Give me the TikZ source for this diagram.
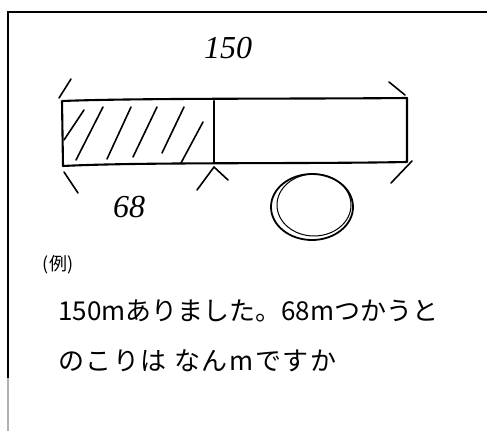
\documentclass[tikz,border=0pt]{standalone}
\usepackage{fontspec}
\newfontfamily\jpfont{Noto Sans CJK JP}
\setmainfont{Liberation Serif}
\begin{document}
\begin{tikzpicture}[x=1pt,y=-1pt,
  pen/.style={line width=2.1pt,line cap=round,line join=round},
  thin pen/.style={line width=1.6pt,line cap=round},
  hand/.style={font=\fontsize{32}{34}\selectfont\itshape,inner sep=0pt},
  jp/.style={font=\jpfont\fontsize{26}{28}\selectfont,inner sep=0pt,anchor=west}]
\useasboundingbox (0,0) rectangle (487,431);
% frame
\draw[line width=1.2pt] (487,12) -- (8,12) -- (8,378);
\draw[line width=1.2pt,gray!60] (8,378) -- (8,431);
% bar
\draw[pen] (62,101) .. controls (140,98) and (300,99) .. (407,98) -- (407,162)
  .. controls (300,164) and (140,162) .. (63,166) -- cycle;
\draw[pen] (214,101) -- (214,163);
% hatching
\foreach \a/\b in {{64,140}/{84,110},{76,160}/{103,107},{107,159}/{131,107},{133,157}/{157,107},{162,153}/{184,107},{181,163}/{203,122}}
  \draw[thin pen] (\a) -- (\b);
% braces
\draw[thin pen] (71,79) -- (59,98);
\draw[thin pen] (389,82) -- (405,95);
\draw[thin pen] (64,172) -- (78,193);
\draw[thin pen] (197,190) -- (214,167) -- (228,180);
\draw[thin pen] (391,183) -- (412,161);
% labels
\node[hand] (total) at (228,48) {150};
\node[hand] (part) at (129,207) {68};
% circle
\draw[line width=1.8pt] (312,207) ellipse [x radius=41,y radius=33];
\draw[line width=1pt] (314,205) ellipse [x radius=37,y radius=31];
% text
\node[font=\jpfont\fontsize{18}{20}\selectfont,inner sep=0pt] (ex) at (58,265) {(例)};
\node[jp] (l1) at (58,311) {150mありました。68mつかうと};
\node[jp,font=\jpfont\fontsize{26}{28}\selectfont\addfontfeatures{LetterSpace=6}] (l2) at (58,361) {のこりは なんmですか};
\end{tikzpicture}
\end{document}
